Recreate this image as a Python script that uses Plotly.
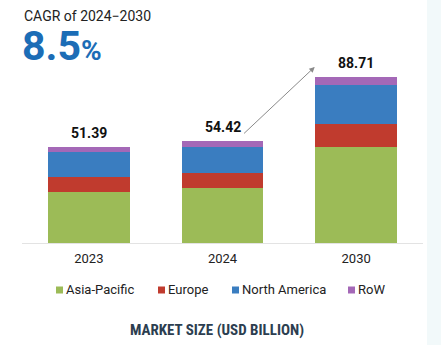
import plotly.graph_objects as go

# Market size by region (USD billion)
years = ["2023", "2024", "2030"]
asia_pacific = [27.2, 29.2, 51.3]
europe = [8.4, 8.5, 12.2]
north_america = [13.39, 13.82, 21.21]
row = [2.4, 2.9, 4.0]

series = [
    ("Asia-Pacific", asia_pacific, "#9CBB57"),
    ("Europe", europe, "#C03B2E"),
    ("North America", north_america, "#3A7DC0"),
    ("RoW", row, "#A468B7"),
]

totals = [round(sum(v), 2) for v in zip(asia_pacific, europe, north_america, row)]

FONT = "Roboto, 'Open Sans', sans-serif"

# Figure geometry (pixels)
W, H = 441, 345
ML, MR, MT, MB = 22, 18, 60, 102
PW, PH = W - ML - MR, H - MT - MB


def px_x(px):
    return (px - ML) / PW


def px_y(py):
    return (H - MB - py) / PH


fig = go.Figure()
for name, vals, color in series:
    fig.add_trace(go.Bar(
        x=years, y=vals, name=name,
        marker=dict(color=color, line=dict(width=0)),
        hoverinfo="skip", showlegend=False,
    ))

# Total labels above each stack (category axis positions are indices)
annotations = []
for i, tot in enumerate(totals):
    annotations.append(dict(
        x=i, y=tot, xref="x", yref="y",
        text=f"<b>{tot:.2f}</b>", showarrow=False,
        yanchor="bottom", yshift=4,
        font=dict(family=FONT, size=14, color="#111111"),
    ))

# Growth arrow from the 2024 label towards the 2030 stack
annotations.append(dict(
    x=1.69, y=totals[2] + 5.6, xref="x", yref="y",
    ax=1.15, ay=totals[1] + 3.5, axref="x", ayref="y",
    text="", showarrow=True, arrowhead=2, arrowsize=1.1,
    arrowwidth=1, arrowcolor="#8a8a8a",
))

# Header
annotations.append(dict(
    x=0, y=px_y(16), xref="paper", yref="paper", xanchor="left", yanchor="middle",
    text="CAGR of 2024\u22122030", showarrow=False,
    font=dict(family=FONT, size=14, color="#222222"),
))
annotations.append(dict(
    x=-0.005, y=px_y(46), xref="paper", yref="paper", xanchor="left", yanchor="middle",
    text="<b>8.5<span style='font-size:28px'>%</span></b>", showarrow=False,
    font=dict(family=FONT, size=41, color="#1C6DB6"),
))
# Footer caption
annotations.append(dict(
    x=px_x(217), y=px_y(330), xref="paper", yref="paper",
    xanchor="center", yanchor="middle",
    text="<b>MARKET SIZE (USD BILLION)</b>", showarrow=False,
    font=dict(family="'Liberation Sans Narrow', 'Roboto Condensed', Roboto, sans-serif",
              size=15, color="#2c3e50"),
))

# Legend row: small colour square followed by the series name
legend_left = [56, 158, 232, 348]
legend_cy = 289
SQ = 7
shapes = [dict(
    type="rect", xref="paper", yref="paper",
    x0=px_x(427), x1=px_x(W + 5), y0=px_y(H + 5), y1=px_y(-5),
    fillcolor="#F2F9FA", line=dict(width=0), layer="below",
)]
for (name, _, color), lx in zip(series, legend_left):
    shapes.append(dict(
        type="rect", xref="paper", yref="paper",
        x0=px_x(lx), x1=px_x(lx + SQ),
        y0=px_y(legend_cy + SQ / 2 + 1), y1=px_y(legend_cy - SQ / 2 + 1),
        fillcolor=color, line=dict(width=0),
    ))
    annotations.append(dict(
        x=px_x(lx + SQ + 1), y=px_y(legend_cy), xref="paper", yref="paper",
        xanchor="left", yanchor="middle", text=name, showarrow=False,
        font=dict(family=FONT, size=13, color="#222222"),
    ))

fig.update_layout(
    width=W, height=H,
    margin=dict(l=ML, r=MR, t=MT, b=MB),
    barmode="stack", bargap=0.387,
    paper_bgcolor="white", plot_bgcolor="white",
    font=dict(family=FONT, size=13, color="#222222"),
    xaxis=dict(
        type="category", categoryorder="array", categoryarray=years,
        range=[-0.5, 2.5],
        showgrid=False, showline=True, linecolor="#e3e3e3", linewidth=1,
        ticks="", ticklabelstandoff=3,
        tickfont=dict(family=FONT, size=13, color="#222222"),
        fixedrange=True,
    ),
    yaxis=dict(
        range=[0, 98], showgrid=False, showline=False, zeroline=False,
        showticklabels=False, ticks="", fixedrange=True,
    ),
    annotations=annotations,
    shapes=shapes,
)

fig.write_html("out.html", config={"displayModeBar": False})
